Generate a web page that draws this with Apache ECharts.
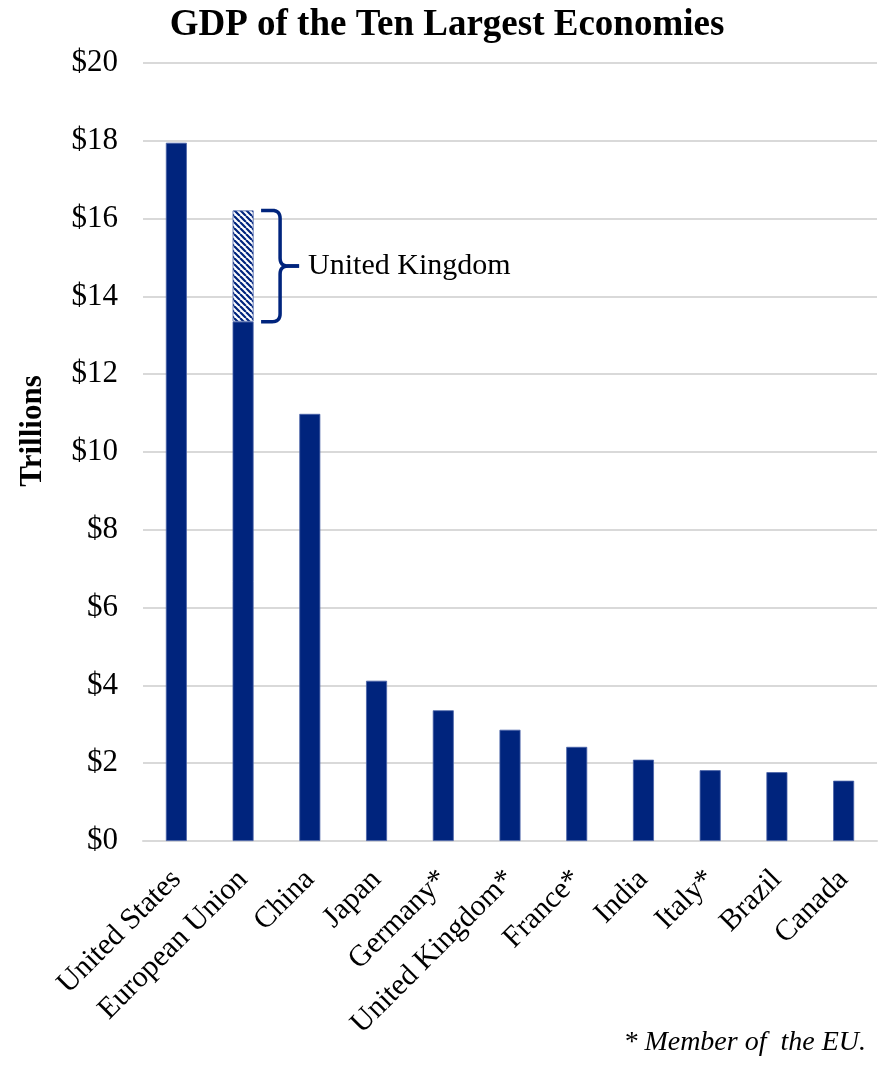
<!DOCTYPE html>
<html>
<head>
<meta charset="utf-8">
<script src="https://cdn.jsdelivr.net/npm/echarts@6/dist/echarts.min.js"></script>
<style>
html,body{margin:0;padding:0;background:#fff;}
#chart{width:894px;height:1071px;}
</style>
</head>
<body>
<div id="chart"></div>
<script>
// ---- data ----
const categories = ['United States','European Union','China','Japan','Germany*','United Kingdom*','France*','India','Italy*','Brazil','Canada'];
const gdp = [17.95, 13.35, 10.98, 4.12, 3.36, 2.86, 2.42, 2.09, 1.82, 1.77, 1.55];
const yTicks = [0, 2, 4, 6, 8, 10, 12, 14, 16, 18, 20];
const ukLabel = 'United Kingdom';
const euCategory = 'European Union';
const ukCategory = 'United Kingdom*';
const yName = 'Trillions';
const footnote = '* Member of  the EU.';

const NAVY = '#00247D';
const FONT = '"Liberation Serif", "DejaVu Serif", serif';

// stripe pattern for UK portion of the EU bar
function stripePattern() {
  const c = document.createElement('canvas');
  c.width = 6; c.height = 6;
  const ctx = c.getContext('2d');
  ctx.fillStyle = '#ffffff';
  ctx.fillRect(0, 0, 6, 6);
  ctx.strokeStyle = NAVY;
  ctx.lineWidth = 2.2;
  ctx.beginPath();
  for (let k = -6; k <= 12; k += 6) {
    ctx.moveTo(k, 0);
    ctx.lineTo(k + 6, 6);
  }
  ctx.stroke();
  return c;
}

const euIdx = categories.indexOf(euCategory);
const ukValue = gdp[categories.indexOf(ukCategory)];
const ukInEU = categories.map((c, i) => i === euIdx ? ukValue : null);

const chart = echarts.init(document.getElementById('chart'), null, {renderer: 'canvas'});
chart.setOption({
  animation: false,
  backgroundColor: '#ffffff',
  title: {
    text: 'GDP of the Ten Largest Economies',
    left: 'center',
    top: 2,
    textStyle: {fontFamily: FONT, fontWeight: 'bold', fontSize: 37, color: '#000'}
  },
  grid: {left: 143, right: 17, top: 63, bottom: 230, containLabel: false},
  xAxis: {
    type: 'category',
    data: categories,
    axisTick: {show: false},
    axisLine: {show: true, lineStyle: {color: '#d9d9d9', width: 2}},
    axisLabel: {
      rotate: 45, interval: 0, margin: 34,
      fontFamily: FONT, fontSize: 30, color: '#000'
    }
  },
  yAxis: {
    type: 'value',
    min: yTicks[0], max: yTicks[yTicks.length - 1], interval: 2,
    axisLine: {show: false},
    axisTick: {show: false},
    splitLine: {lineStyle: {color: '#d9d9d9', width: 2}},
    axisLabel: {
      margin: 25,
      fontFamily: FONT, fontSize: 31, color: '#000',
      formatter: v => '$' + v
    }
  },
  series: [
    {
      type: 'bar', stack: 'g', data: gdp, barWidth: 21,
      itemStyle: {color: NAVY, borderColor: '#4a63a8', borderWidth: 0.8}
    },
    {
      type: 'bar', stack: 'g', data: ukInEU, barWidth: 21,
      itemStyle: {color: {image: stripePattern(), repeat: 'repeat'}, borderColor: '#4a63a8', borderWidth: 0.8}
    }
  ]
});

// brace annotation derived from data positions
const cx = chart.convertToPixel({xAxisIndex: 0}, euCategory);
const yTop = chart.convertToPixel({yAxisIndex: 0}, gdp[euIdx] + ukValue);
const yBot = chart.convertToPixel({yAxisIndex: 0}, gdp[euIdx]);
const x0 = cx + 18, x1 = cx + 37, x2 = cx + 56;
const ym = (yTop + yBot) / 2;
const r = 8;
function quad(p0, p1, p2, n) {
  const out = [];
  for (let i = 1; i <= n; i++) {
    const t = i / n, u = 1 - t;
    out.push([u*u*p0[0] + 2*u*t*p1[0] + t*t*p2[0], u*u*p0[1] + 2*u*t*p1[1] + t*t*p2[1]]);
  }
  return out;
}
let pts = [[x0, yTop], [x1 - r, yTop]];
pts = pts.concat(quad([x1 - r, yTop], [x1, yTop], [x1, yTop + r], 8));
pts.push([x1, ym - r]);
pts = pts.concat(quad([x1, ym - r], [x1, ym], [x1 + r, ym], 8));
pts.push([x2, ym]);
const pts2 = [[x2, ym], [x1 + r, ym]].concat(quad([x1 + r, ym], [x1, ym], [x1, ym + r], 8));
pts2.push([x1, yBot - r]);
const pts2b = pts2.concat(quad([x1, yBot - r], [x1, yBot], [x1 - r, yBot], 8));
pts2b.push([x0, yBot]);

chart.setOption({
  graphic: [
    {type: 'polyline', shape: {points: pts}, style: {fill: null, stroke: NAVY, lineWidth: 3.5, lineJoin: 'round'}},
    {type: 'polyline', shape: {points: pts2b}, style: {fill: null, stroke: NAVY, lineWidth: 3.5, lineJoin: 'round'}},
    {type: 'text', x: x2 + 9, y: ym, style: {text: ukLabel, font: '30px ' + FONT, fill: '#000', verticalAlign: 'middle'}},
    {type: 'text', x: 33, y: 431, rotation: Math.PI / 2, style: {text: yName, font: 'bold 31px ' + FONT, fill: '#000', align: 'center', verticalAlign: 'middle'}},
    {type: 'text', right: 28, bottom: 14, style: {text: footnote, font: 'italic 28px ' + FONT, fill: '#000'}}
  ]
});
</script>
</body>
</html>
